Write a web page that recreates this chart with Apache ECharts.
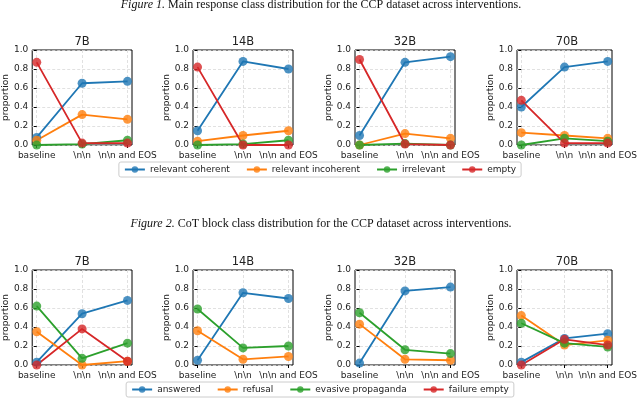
<!DOCTYPE html>
<html>
<head>
<meta charset="utf-8">
<script src="https://cdn.jsdelivr.net/npm/echarts@6/dist/echarts.min.js"></script>
<style>
  html, body { margin: 0; padding: 0; background: #fff; }
  #chart { width: 640px; height: 399px; }
</style>
</head>
<body>
<div id="chart"></div>
<script>
const interventions = ['baseline', '\\n\\n', '\\n\\n and EOS']
const models = ['7B', '14B', '32B', '70B']
const responseClasses = ['relevant coherent', 'relevant incoherent', 'irrelevant', 'empty']
const cotClasses = ['answered', 'refusal', 'evasive propaganda', 'failure empty']

// Figure 1: one row per model, values for baseline, \n\n, \n\n and EOS
const relevantCoherent = [[0.08, 0.65, 0.67], [0.15, 0.88, 0.80], [0.10, 0.87, 0.93], [0.40, 0.82, 0.88]]
const relevantIncoherent = [[0.05, 0.32, 0.27], [0.04, 0.10, 0.15], [0.00, 0.12, 0.07], [0.13, 0.10, 0.07]]
const irrelevant = [[0.00, 0.01, 0.05], [0.00, 0.01, 0.05], [0.00, 0.015, 0.00], [0.00, 0.07, 0.04]]
const empty = [[0.87, 0.02, 0.02], [0.82, 0.00, 0.00], [0.90, 0.01, 0.00], [0.47, 0.02, 0.02]]

// Figure 2
const answered = [[0.03, 0.54, 0.68], [0.05, 0.76, 0.70], [0.02, 0.78, 0.82], [0.03, 0.28, 0.33]]
const refusal = [[0.35, 0.00, 0.04], [0.36, 0.06, 0.09], [0.43, 0.06, 0.05], [0.52, 0.21, 0.26]]
const evasivePropaganda = [[0.62, 0.07, 0.23], [0.59, 0.18, 0.20], [0.55, 0.16, 0.12], [0.44, 0.23, 0.19]]
const failureEmpty = [[0.00, 0.38, 0.04], [null, null, null], [null, null, null], [0.00, 0.27, 0.21]]

const colors = ['#1f77b4', '#ff7f0e', '#2ca02c', '#d62728']
const font = 'DejaVu Sans'
const ink = '#222'

const colLeft = [32, 193, 355, 517]
const rowTop = [50, 270]
const plotW = 100
const plotH = 95

const rows = [
  { classes: responseClasses, values: [relevantCoherent, relevantIncoherent, irrelevant, empty] },
  { classes: cotClasses, values: [answered, refusal, evasivePropaganda, failureEmpty] }
]

const captionStyle = {
  fontFamily: 'Liberation Serif', fontSize: 12, fontWeight: 'normal', color: '#111',
  rich: { i: { fontFamily: 'Liberation Serif', fontSize: 12, fontStyle: 'italic', color: '#111' } }
}

const grid = []
const xAxis = []
const yAxis = []
const series = []
const title = [
  {
    text: '{i|Figure 1.} Main response class distribution for the CCP dataset across interventions.',
    left: 321, top: -1, textAlign: 'center', padding: 0, textStyle: captionStyle
  },
  {
    text: '{i|Figure 2.} CoT block class distribution for the CCP dataset across interventions.',
    left: 321, top: 218, textAlign: 'center', padding: 0, textStyle: captionStyle
  }
]

rows.forEach((row, r) => {
  models.forEach((model, m) => {
    const idx = grid.length
    grid.push({
      left: colLeft[m], top: rowTop[r], width: plotW, height: plotH,
      show: true, borderColor: '#000', borderWidth: 1, backgroundColor: 'transparent'
    })
    title.push({
      text: model, left: colLeft[m] + plotW / 2, top: rowTop[r] - 14, textAlign: 'center', padding: 0,
      textStyle: { fontFamily: font, fontSize: 11.5, fontWeight: 'normal', color: ink }
    })
    xAxis.push({
      type: 'value', gridIndex: idx, min: -0.1, max: 2.1,
      axisLine: { show: false },
      axisTick: { show: true, length: 3, customValues: [0, 1, 2], lineStyle: { color: '#000' } },
      axisLabel: {
        customValues: [0, 1, 2], margin: 6, fontFamily: font, fontSize: 9, color: ink,
        formatter: v => interventions[Math.round(v)]
      },
      splitLine: { show: true, lineStyle: { color: '#d9d9d9', type: [3, 2], width: 0.8 } }
    })
    yAxis.push({
      type: 'value', gridIndex: idx, min: 0, max: 1, interval: 0.2,
      name: 'proportion', nameLocation: 'middle', nameGap: 22, nameRotate: 90,
      nameTextStyle: { fontFamily: font, fontSize: 9, color: ink },
      axisLine: { show: false },
      axisTick: { show: true, length: 3, lineStyle: { color: '#000' } },
      axisLabel: { margin: 4, fontFamily: font, fontSize: 9, color: ink, formatter: v => v.toFixed(1) },
      splitLine: { show: true, lineStyle: { color: '#d9d9d9', type: [3, 2], width: 0.8 } }
    })
    row.classes.forEach((name, c) => {
      series.push({
        type: 'line', name, xAxisIndex: idx, yAxisIndex: idx,
        data: row.values[c][m].map((v, i) => [i, v]),
        symbol: 'circle', symbolSize: 9,
        lineStyle: { color: colors[c], width: 1.8 },
        itemStyle: { color: colors[c], opacity: 0.8 },
        emphasis: { disabled: true },
        animation: false
      })
    })
  })
})

const legendBase = {
  left: 'center', orient: 'horizontal',
  itemWidth: 20, itemHeight: 8, itemGap: 16,
  padding: [3, 5], borderColor: '#ccc', borderWidth: 1, borderRadius: 2,
  textStyle: { fontFamily: font, fontSize: 9, color: ink }
}

const chart = echarts.init(document.getElementById('chart'))
chart.setOption({
  animation: false,
  color: colors,
  title,
  grid,
  xAxis,
  yAxis,
  legend: [
    Object.assign({}, legendBase, { top: 162, data: responseClasses }),
    Object.assign({}, legendBase, { top: 382, data: cotClasses })
  ],
  series
})
</script>
</body>
</html>
